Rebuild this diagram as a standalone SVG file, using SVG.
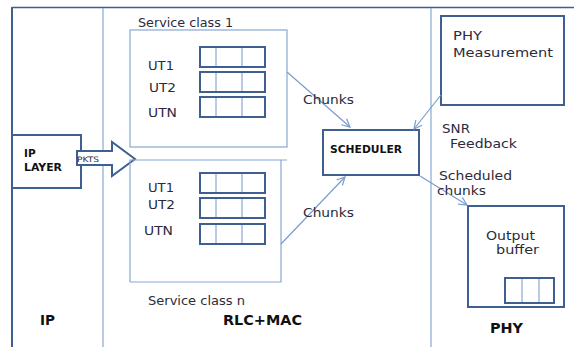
<svg xmlns="http://www.w3.org/2000/svg" width="574" height="347" viewBox="0 0 574 347">
<style>
.dark{fill:none;stroke:#3e5f8f;stroke-width:2}
.light{fill:none;stroke:#88a8d4;stroke-width:1.2}
.q{fill:none;stroke:#3e5f8f;stroke-width:2}
.qd{stroke:#88a8d4;stroke-width:1.2}
.con{fill:none;stroke:#7a9cce;stroke-width:1.2}
text{font-family:"DejaVu Sans","Open Sans",sans-serif;fill:#2b2b3b}
.t{font-size:11.5px}
.b{font-weight:bold;fill:#111}
</style>
<defs>
<marker id="ah" markerWidth="10" markerHeight="10" refX="9" refY="5" orient="auto" markerUnits="userSpaceOnUse">
<path d="M1,1 L9,5 L1,9" fill="none" stroke="#7a9cce" stroke-width="1.2"/>
</marker>
</defs>
<rect width="574" height="347" fill="#fff"/>
<g id="frame">
<line x1="12" y1="7.5" x2="574" y2="7.5" stroke="#3e5f8f" stroke-width="1.5"/>
<line x1="12" y1="7" x2="12" y2="347" stroke="#3e5f8f" stroke-width="2"/>
<line x1="103" y1="8" x2="103" y2="347" class="light"/>
<line x1="431" y1="8" x2="431" y2="347" class="light"/>
<text x="40" y="325" class="b" font-size="14" textLength="15" lengthAdjust="spacingAndGlyphs">IP</text>
<text x="223" y="325" class="b" font-size="14" textLength="79" lengthAdjust="spacingAndGlyphs">RLC+MAC</text>
<text x="490" y="333" class="b" font-size="14" textLength="33" lengthAdjust="spacingAndGlyphs">PHY</text>
</g>
<g id="ip-layer">
<rect x="12" y="135" width="69" height="53" class="dark"/>
<text x="24" y="157" class="b" font-size="10.5">IP</text>
<text x="24" y="171" class="b" font-size="10.5" textLength="38" lengthAdjust="spacingAndGlyphs">LAYER</text>
</g>
<g id="pkts">
<path d="M77,151 L112,151 L112,142 L135,159 L112,176 L112,165 L77,165 Z" fill="#fff" stroke="#3e5f8f" stroke-width="2"/>
<text x="77" y="162" font-size="7.5" textLength="22" lengthAdjust="spacingAndGlyphs">PKTS</text>
</g>
<g id="service-class-1">
<rect x="130" y="30" width="157" height="117" class="light"/>
<text x="138" y="27" class="t" textLength="95" lengthAdjust="spacingAndGlyphs">Service class 1</text>
<text x="148" y="70" class="t" textLength="26" lengthAdjust="spacingAndGlyphs">UT1</text>
<text x="149" y="92" class="t" textLength="27" lengthAdjust="spacingAndGlyphs">UT2</text>
<text x="148" y="117" class="t" textLength="29" lengthAdjust="spacingAndGlyphs">UTN</text>
<g>
<line x1="216" y1="47" x2="216" y2="66" class="qd"/><line x1="242" y1="47" x2="242" y2="66" class="qd"/>
<rect x="200" y="47" width="65" height="20" class="q"/>
<line x1="216" y1="72" x2="216" y2="92" class="qd"/><line x1="242" y1="72" x2="242" y2="92" class="qd"/>
<rect x="200" y="72" width="65" height="20" class="q"/>
<line x1="216" y1="97" x2="216" y2="117" class="qd"/><line x1="242" y1="97" x2="242" y2="117" class="qd"/>
<rect x="200" y="97" width="65" height="20" class="q"/>
</g>
</g>
<g id="service-class-n">
<path d="M130,282 L130,160 L287,160 M281,160 L281,282 L130,282" class="light"/>
<text x="148" y="305" class="t" textLength="97" lengthAdjust="spacingAndGlyphs">Service class n</text>
<text x="148" y="192" class="t" textLength="26" lengthAdjust="spacingAndGlyphs">UT1</text>
<text x="148" y="209" class="t" textLength="27" lengthAdjust="spacingAndGlyphs">UT2</text>
<text x="144" y="235" class="t" textLength="29" lengthAdjust="spacingAndGlyphs">UTN</text>
<g>
<line x1="216" y1="173" x2="216" y2="193" class="qd"/><line x1="242" y1="173" x2="242" y2="193" class="qd"/>
<rect x="200" y="173" width="65" height="20" class="q"/>
<line x1="216" y1="198" x2="216" y2="218" class="qd"/><line x1="242" y1="198" x2="242" y2="218" class="qd"/>
<rect x="200" y="198" width="65" height="20" class="q"/>
<line x1="216" y1="224" x2="216" y2="244" class="qd"/><line x1="242" y1="224" x2="242" y2="244" class="qd"/>
<rect x="200" y="224" width="65" height="20" class="q"/>
</g>
</g>
<g id="scheduler">
<rect x="323" y="130" width="96" height="45" class="dark"/>
<text x="330" y="153" class="b" font-size="10.5" textLength="72" lengthAdjust="spacingAndGlyphs">SCHEDULER</text>
</g>
<g id="phy-measurement">
<rect x="441" y="16" width="123" height="89" class="dark"/>
<text x="453" y="40" class="t" textLength="29" lengthAdjust="spacingAndGlyphs">PHY</text>
<text x="453" y="57" class="t" textLength="100" lengthAdjust="spacingAndGlyphs">Measurement</text>
</g>
<g id="output-buffer">
<rect x="468" y="206" width="96" height="101" class="dark"/>
<text x="486" y="240" class="t" textLength="49" lengthAdjust="spacingAndGlyphs">Output</text>
<text x="496" y="254" class="t" textLength="43" lengthAdjust="spacingAndGlyphs">buffer</text>
<line x1="522" y1="278" x2="522" y2="303" class="qd"/><line x1="539" y1="278" x2="539" y2="303" class="qd"/>
<rect x="505" y="278" width="49" height="25" class="q"/>
</g>
<g id="connectors">
<line x1="287" y1="72" x2="350" y2="127" class="con" marker-end="url(#ah)"/>
<line x1="281" y1="244" x2="345" y2="177" class="con" marker-end="url(#ah)"/>
<line x1="441" y1="95" x2="414" y2="129" class="con" marker-end="url(#ah)"/>
<line x1="420" y1="176" x2="467" y2="205" class="con" marker-end="url(#ah)"/>
<text x="303" y="104" class="t" textLength="51" lengthAdjust="spacingAndGlyphs">Chunks</text>
<text x="303" y="217" class="t" textLength="51" lengthAdjust="spacingAndGlyphs">Chunks</text>
<text x="442" y="133" class="t" textLength="28" lengthAdjust="spacingAndGlyphs">SNR</text>
<text x="450" y="148" class="t" textLength="67" lengthAdjust="spacingAndGlyphs">Feedback</text>
<text x="439" y="180" class="t" textLength="73" lengthAdjust="spacingAndGlyphs">Scheduled</text>
<text x="437" y="195" class="t" textLength="49" lengthAdjust="spacingAndGlyphs">chunks</text>
</g>
</svg>
